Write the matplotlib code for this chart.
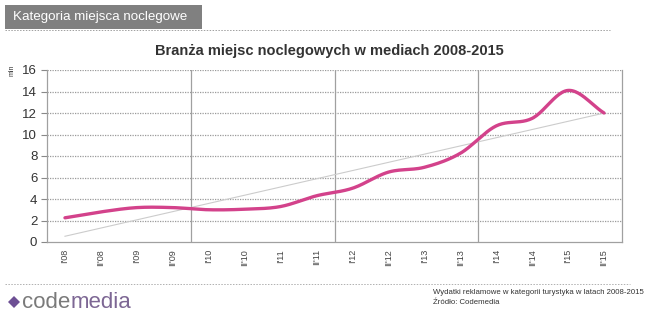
import numpy as np
import matplotlib
matplotlib.use("Agg")
import matplotlib.pyplot as plt
from matplotlib.patches import Rectangle, Polygon
from matplotlib.lines import Line2D

plt.rcParams['font.family'] = ['Liberation Sans', 'DejaVu Sans']

# Half-year periods and media spend (mln)
periods = ["I'08", "II'08", "I'09", "II'09", "I'10", "II'10", "I'11", "II'11",
           "I'12", "II'12", "I'13", "II'13", "I'14", "II'14", "I'15", "II'15"]
spend = [2.25, 2.8, 3.2, 3.2, 3.0, 3.05, 3.3, 4.3,
         5.0, 6.5, 6.95, 8.25, 10.8, 11.5, 14.1, 12.0]
y_ticks = [0, 2, 4, 6, 8, 10, 12, 14, 16]

title = "Branża miejsc noclegowych w mediach 2008-2015"
header = "Kategoria miejsca noclegowe"
note_1 = "Wydatki reklamowe w kategorii turystyka w latach 2008-2015"
note_2 = "Źródło: Codemedia"

LINE = "#d3428b"
GRID = "#9a9a9a"


def catmull_rom(x, y, n=24):
    """Smooth curve through all points (uniform Catmull-Rom)."""
    x = np.asarray(x, float)
    y = np.asarray(y, float)
    px = np.concatenate([[2 * x[0] - x[1]], x, [2 * x[-1] - x[-2]]])
    py = np.concatenate([[2 * y[0] - y[1]], y, [2 * y[-1] - y[-2]]])
    xs, ys = [], []
    t = np.linspace(0, 1, n, endpoint=False)
    for i in range(1, len(px) - 2):
        for arr, out in ((px, xs), (py, ys)):
            p0, p1, p2, p3 = arr[i - 1], arr[i], arr[i + 1], arr[i + 2]
            out.extend(0.5 * ((2 * p1) + (-p0 + p2) * t
                              + (2 * p0 - 5 * p1 + 4 * p2 - p3) * t ** 2
                              + (-p0 + 3 * p1 - 3 * p2 + p3) * t ** 3))
    xs.append(x[-1])
    ys.append(y[-1])
    return np.array(xs), np.array(ys)


fig = plt.figure(figsize=(6.55, 3.22), dpi=100)
fig.patch.set_facecolor("white")

ax = fig.add_axes([47 / 655, 1 - 242 / 322, 575 / 655, 172 / 322])
x = np.arange(len(periods))

# horizontal dotted grid
for v in y_ticks[1:]:
    ax.axhline(v, color=GRID, lw=0.9, ls=(0, (1, 1)), zorder=1)
# year-pair separators
for b in (3.5, 7.5, 11.5):
    ax.axvline(b, color="#a0a0a0", lw=0.9, zorder=1)

# linear trend
k, c = np.polyfit(x, spend, 1)
ax.plot(x, k * x + c, color="#cccccc", lw=0.8, zorder=2)

# smoothed series
sx, sy = catmull_rom(x, spend)
ax.plot(sx, sy, color=LINE, lw=2.4, solid_capstyle="round", zorder=3)

ax.set_xlim(-0.5, len(periods) - 0.5)
ax.set_ylim(0, 16)
ax.set_yticks(y_ticks)
ax.set_yticklabels([str(v) for v in y_ticks], fontsize=9.5, color="#333333")
ax.set_xticks(x)
ax.set_xticklabels(periods, rotation=90, fontsize=6.5, color="#444444")
ax.tick_params(axis="x", length=0, pad=5)
ax.tick_params(axis="y", length=4, width=0.8, color="#888888", pad=3)

ax.spines["top"].set_visible(False)
for s in ("left", "right", "bottom"):
    ax.spines[s].set_color("#a0a0a0")
    ax.spines[s].set_linewidth(0.9)

# unit label
fig.text(12 / 655, 1 - 70 / 322, "mln", rotation=90, fontsize=5,
         ha="center", va="center", color="#333333")

# chart title
fig.text(329 / 655, 1 - 51 / 322, title, fontsize=10.5, fontweight="bold",
         ha="center", va="center", color="#333333")

# header box
fig.add_artist(Rectangle((5 / 655, 1 - 29 / 322), 197 / 655, 24 / 322,
                         transform=fig.transFigure, facecolor="#808080",
                         edgecolor="none"))
fig.text(13 / 655, 1 - 17 / 322, header, fontsize=9.6, color="white",
         ha="left", va="center")
fig.add_artist(Line2D([5 / 655, 610 / 655], [1 - 30 / 322, 1 - 30 / 322],
                      transform=fig.transFigure, color="#a0a0a0", lw=0.7,
                      ls=(0, (1.5, 1.5))))

# footer rule
fig.add_artist(Line2D([5 / 655, 630 / 655], [1 - 284 / 322, 1 - 284 / 322],
                      transform=fig.transFigure, color="#b0b0b0", lw=0.7,
                      ls=(0, (1.5, 1.5))))

# logo
cx, cy = 14, 302
diamond = Polygon([((cx - 6) / 655, 1 - cy / 322), (cx / 655, 1 - (cy - 6) / 322),
                   ((cx + 6) / 655, 1 - cy / 322), (cx / 655, 1 - (cy + 6) / 322)],
                  closed=True, transform=fig.transFigure,
                  facecolor="#6d4f94", edgecolor="none")
fig.add_artist(diamond)
t1 = fig.text(22 / 655, 1 - 302 / 322, "code", fontsize=16, color="#7a7a7a",
              ha="left", va="center")
fig.canvas.draw()
bb = t1.get_window_extent()
fig.text(bb.x1 / (fig.get_figwidth() * fig.dpi), 1 - 302 / 322, "media",
         fontsize=16, color="#7d6794", ha="left", va="center")

# source note
fig.text(433 / 655, 1 - 293 / 322, note_1, fontsize=5.6, color="#333333",
         ha="left", va="center")
fig.text(433 / 655, 1 - 302 / 322, note_2, fontsize=5.6, color="#333333",
         ha="left", va="center")

fig.savefig("out.png", dpi=100, facecolor="white")
